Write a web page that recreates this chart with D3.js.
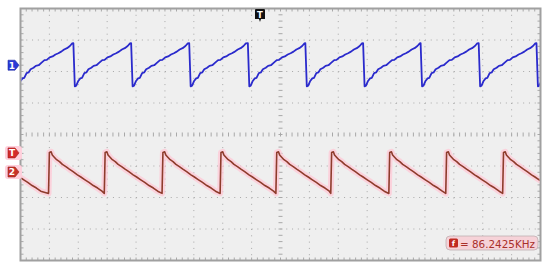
<!DOCTYPE html>
<html>
<head>
<meta charset="utf-8">
<script src="https://cdn.jsdelivr.net/npm/d3@7"></script>
<style>
  body { margin: 0; background: #fff; }
  svg { display: block; font-family: "DejaVu Sans", Arial, sans-serif; }
</style>
</head>
<body>
<div id="scope"></div>
<script>
// screen is 18 x 8 divisions, values in divisions
var timeDomain = [-9, 9];
var voltDomain = [-4, 4];

// channel 1 (blue): times of the falling edges, and one cycle
var ch1Edges = [-9.17, -7.17, -5.17, -3.16, -1.13, 0.86, 2.86, 4.85, 6.86, 8.86];
var ch1Cycle = [
  [0, 2.90], [0.05, 1.53], [0.10, 1.55], [0.17, 1.70], [0.24, 1.78], [0.30, 1.80],
  [0.38, 1.95], [0.45, 1.97], [0.52, 2.07], [0.62, 2.12], [0.70, 2.18], [0.80, 2.20],
  [0.90, 2.28], [1.00, 2.36], [1.08, 2.37], [1.18, 2.45], [1.28, 2.48], [1.38, 2.54],
  [1.48, 2.58], [1.58, 2.63], [1.68, 2.70], [1.78, 2.74], [1.88, 2.81], [1.96, 2.89]
];

// channel 2 (red): times of the rising edges, and one cycle
var ch2Edges = [-10.15, -8.03, -6.10, -4.10, -2.09, -0.16, 1.74, 3.75, 5.72, 7.69];
var ch2Cycle = [
  [0, -1.87], [0.03, -0.57], [0.09, -0.55], [0.13, -0.65], [0.20, -0.72], [0.28, -0.80],
  [0.38, -0.86], [0.48, -0.95], [0.60, -1.02], [0.72, -1.10], [0.85, -1.18], [1.00, -1.28],
  [1.12, -1.35], [1.25, -1.43], [1.40, -1.52], [1.55, -1.62], [1.70, -1.70], [1.85, -1.80]
];

var ch1Level = 2.2;      // channel 1 ground marker
var ch2Level = -1.19;    // channel 2 ground marker
var trigLevel = -0.585;  // trigger level
var trigTime = -0.71;    // trigger position
var freqText = "= 86.2425KHz";

var width = 550, height = 271;

var svg = d3.select("#scope").append("svg")
  .attr("width", width)
  .attr("height", height);

var x = d3.scaleLinear().domain(timeDomain).range([20.5, 540.5]);
var y = d3.scaleLinear().domain(voltDomain).range([260.5, 8.5]);

var divX = (x(1) - x(0)) / 5;
var divY = (y(0) - y(1)) / 5;

svg.append("rect")
  .attr("x", x(-9)).attr("y", y(4))
  .attr("width", x(9) - x(-9)).attr("height", y(-4) - y(4))
  .attr("fill", "#efefef");

var grid = svg.append("g").attr("stroke", "#a8a8a8");

// dotted division lines
d3.range(-8, 9).filter(d => d != 0).forEach(function (d) {
  grid.append("line")
    .attr("x1", x(d)).attr("x2", x(d))
    .attr("y1", y(4)).attr("y2", y(-4))
    .attr("stroke-dasharray", "1 " + (divY - 1));
});
d3.range(-3, 4).filter(d => d != 0).forEach(function (d) {
  grid.append("line")
    .attr("y1", y(d)).attr("y2", y(d))
    .attr("x1", x(-9)).attr("x2", x(9))
    .attr("stroke-dasharray", "1 " + (divX - 1));
});

// minor ticks on centre axes and border
var minorT = d3.range(-45, 46).map(d => d / 5);
var minorV = d3.range(-20, 21).map(d => d / 5);

grid.selectAll(".cx").data(minorT).join("line")
  .attr("x1", d => x(d)).attr("x2", d => x(d))
  .attr("y1", y(0) - 2).attr("y2", y(0) + 2);
grid.selectAll(".cy").data(minorV).join("line")
  .attr("y1", d => y(d)).attr("y2", d => y(d))
  .attr("x1", x(0) - 2).attr("x2", x(0) + 2);

grid.selectAll(".tt").data(minorT).join("line")
  .attr("x1", d => x(d)).attr("x2", d => x(d))
  .attr("y1", y(4)).attr("y2", y(4) + 3);
grid.selectAll(".tb").data(minorT).join("line")
  .attr("x1", d => x(d)).attr("x2", d => x(d))
  .attr("y1", y(-4)).attr("y2", y(-4) - 3);
grid.selectAll(".tl").data(minorV).join("line")
  .attr("y1", d => y(d)).attr("y2", d => y(d))
  .attr("x1", x(-9)).attr("x2", x(-9) + 3);
grid.selectAll(".tr").data(minorV).join("line")
  .attr("y1", d => y(d)).attr("y2", d => y(d))
  .attr("x1", x(9)).attr("x2", x(9) - 3);

svg.append("rect")
  .attr("x", x(-9)).attr("y", y(4))
  .attr("width", x(9) - x(-9)).attr("height", y(-4) - y(4))
  .attr("fill", "none").attr("stroke", "#a0a0a0").attr("stroke-width", 2);

// traces
function buildTrace(edges, cycle) {
  var pts = [];
  edges.forEach(function (e) {
    cycle.forEach(function (p) { pts.push([e + p[0], p[1]]); });
  });
  return pts;
}

svg.append("clipPath").attr("id", "screen")
  .append("rect")
  .attr("x", x(-9) + 1).attr("y", y(4) + 1)
  .attr("width", x(9) - x(-9) - 2).attr("height", y(-4) - y(4) - 2);

var line = d3.line().x(d => x(d[0])).y(d => y(d[1]));
var traces = svg.append("g").attr("clip-path", "url(#screen)").attr("fill", "none")
  .attr("stroke-linejoin", "round");

var ch2 = buildTrace(ch2Edges, ch2Cycle);
traces.append("path").attr("d", line(ch2))
  .attr("stroke", "#ffc8d6").attr("stroke-width", 6).attr("opacity", 0.75);
traces.append("path").attr("d", line(ch2))
  .attr("stroke", "#8e3c2c").attr("stroke-width", 1.6);

traces.append("path").attr("d", line(buildTrace(ch1Edges, ch1Cycle)))
  .attr("stroke", "#2a2acc").attr("stroke-width", 1.8);

// markers on the left edge
function levelMarker(v, label, fill, glow) {
  var g = svg.append("g").attr("transform", "translate(0," + y(v) + ")");
  if (glow) {
    g.append("rect").attr("x", 5).attr("y", -7).attr("width", 17).attr("height", 14)
      .attr("rx", 3).attr("fill", "#ffd0dc");
  }
  g.append("path")
    .attr("d", "M8,-5 H15 L19,0 L15,5 H8 Z")
    .attr("fill", fill).attr("stroke", d3.color(fill).darker(0.8)).attr("stroke-width", 0.6);
  g.append("text").attr("x", 12).attr("y", 3.5)
    .attr("text-anchor", "middle").attr("font-size", 9).attr("font-weight", "bold")
    .attr("fill", "#fff").text(label);
}
levelMarker(ch1Level, "1", "#2a3ad6", false);
levelMarker(trigLevel, "T", "#d42a2a", true);
levelMarker(ch2Level, "2", "#c83228", true);

// trigger position marker
var tg = svg.append("g").attr("transform", "translate(" + x(trigTime) + ",0)");
tg.append("path")
  .attr("d", "M-5,10 Q-5,9 -4,9 H4 Q5,9 5,10 V19 L1,19 L0,22 L-1,19 L-5,19 Z")
  .attr("fill", "#111");
tg.append("text").attr("x", 0).attr("y", 17.5)
  .attr("text-anchor", "middle").attr("font-size", 8.5).attr("font-weight", "bold")
  .attr("fill", "#fff").text("T");

// frequency readout
var fg = svg.append("g");
fg.append("rect").attr("x", 446).attr("y", 236).attr("width", 92).attr("height", 14)
  .attr("rx", 4).attr("fill", "#f6d2d8").attr("stroke", "#bfb0b2").attr("stroke-width", 0.8);
fg.append("rect").attr("x", 449).attr("y", 238.5).attr("width", 9).attr("height", 9)
  .attr("rx", 1.5).attr("fill", "#c02a22");
fg.append("text").attr("x", 453.5).attr("y", 246)
  .attr("text-anchor", "middle").attr("font-size", 7.5).attr("font-weight", "bold")
  .attr("fill", "#fff").text("f");
fg.append("text").attr("x", 460).attr("y", 247.5)
  .attr("font-size", 11).attr("fill", "#a8302a")
  .attr("textLength", 75).attr("lengthAdjust", "spacingAndGlyphs")
  .text(freqText);
</script>
</body>
</html>
